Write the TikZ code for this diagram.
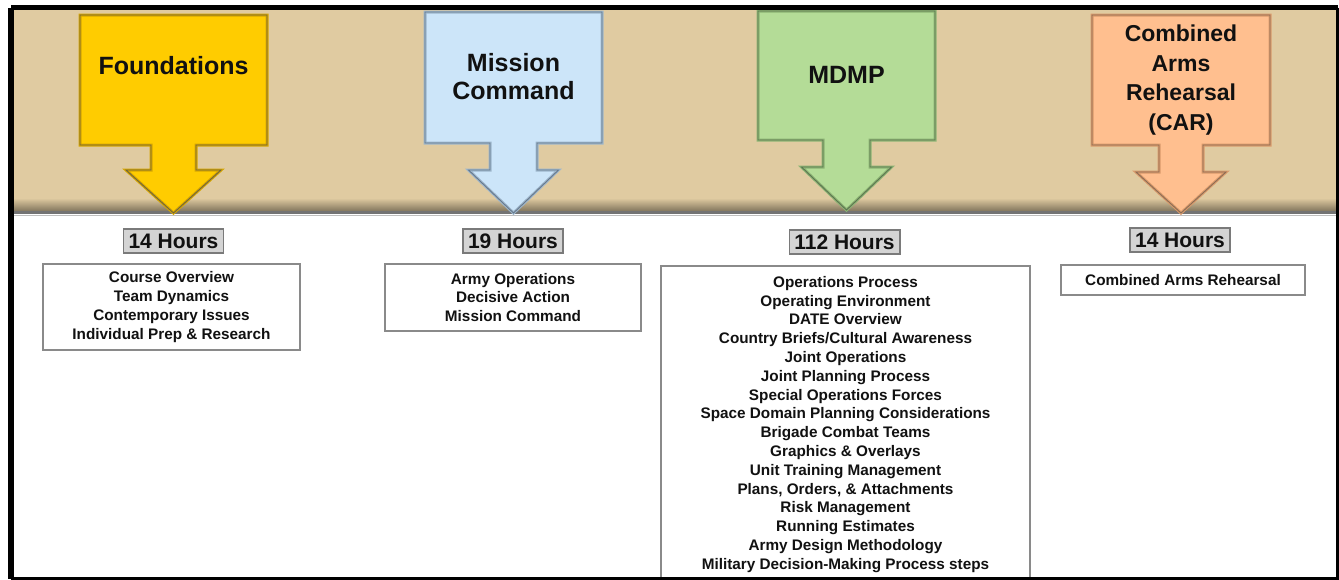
\documentclass[tikz,border=0pt]{standalone}
\usepackage{fontspec}
\setmainfont{Liberation Sans}
\usetikzlibrary{shapes.misc}
\definecolor{tan}{HTML}{E0CBA1}
\definecolor{txt}{HTML}{111111}
\definecolor{fndF}{HTML}{FFCC00}\definecolor{fndD}{HTML}{D6A600}\definecolor{fndO}{HTML}{6E6440}
\definecolor{misF}{HTML}{CCE5F9}\definecolor{misD}{HTML}{9DB6CC}\definecolor{misO}{HTML}{67788A}
\definecolor{mdmF}{HTML}{B4DC97}\definecolor{mdmD}{HTML}{8CB473}\definecolor{mdmO}{HTML}{5C7450}
\definecolor{carF}{HTML}{FFBF8F}\definecolor{carD}{HTML}{D99A6B}\definecolor{carO}{HTML}{8A6C55}
\definecolor{hrsF}{HTML}{D4D4D4}\definecolor{hrsD}{HTML}{7A7A7A}
\definecolor{boxD}{HTML}{8A8A8A}
% c, half box width, top, box bottom, half stem width, wing y, half wing width, tip y
\newcommand{\arrowpath}[8]{(#1-#2,#3) -- (#1+#2,#3) -- (#1+#2,#4) -- (#1+#5,#4) -- (#1+#5,#6) -- (#1+#7,#6) -- (#1,#8) -- (#1-#7,#6) -- (#1-#5,#6) -- (#1-#5,#4) -- (#1-#2,#4) -- cycle}
\tikzset{
  title/.style={font=\bfseries\fontsize{25}{28}\selectfont, text=txt, align=center, inner sep=0pt},
  hours/.style={draw=hrsD, fill=hrsF, line width=1.6pt, font=\bfseries\fontsize{21}{24}\selectfont,
     text=txt, inner xsep=5pt, inner ysep=0pt, minimum height=24pt},
  listbox/.style={draw=boxD, line width=1.3pt, fill=white, font=\bfseries\fontsize{15.3}{18.8}\selectfont,
     text=txt, align=center, inner sep=0pt},
  listtext/.style={font=\bfseries\fontsize{15.3}{18.8}\selectfont, text=txt, align=center, inner sep=0pt},
  bevel/.style={line width=3pt, line join=miter},
  outline/.style={line width=0.9pt, line join=miter}
}
\begin{document}
\begin{tikzpicture}[x=1pt,y=-1pt]
\useasboundingbox (0,0) rectangle (1339,579);
\fill[white] (0,0) rectangle (1339,579);
% tan band
\fill[tan] (12,9) rectangle (1336,212);
\shade[top color=tan, bottom color=tan!55!black] (12,198) rectangle (1336,212);
\draw[line width=2.2pt, black!55] (12,212.5) -- (1336,212.5);
\draw[line width=1.4pt, black!25] (12,215.5) -- (1336,215.5);
% arrows
\filldraw[fill=fndF, draw=fndD, bevel] \arrowpath{173.5}{93.5}{15}{145}{22.5}{170}{47.5}{213};
\draw[draw=fndO, outline] \arrowpath{173.5}{93.5}{15}{145}{22.5}{170}{47.5}{213};
\filldraw[fill=misF, draw=misD, bevel] \arrowpath{513.5}{88.5}{12}{143}{23.5}{170}{45}{213};
\draw[draw=misO, outline] \arrowpath{513.5}{88.5}{12}{143}{23.5}{170}{45}{213};
\filldraw[fill=mdmF, draw=mdmD, bevel] \arrowpath{846.5}{88.5}{11}{140}{23.5}{167}{45}{210};
\draw[draw=mdmO, outline] \arrowpath{846.5}{88.5}{11}{140}{23.5}{167}{45}{210};
\filldraw[fill=carF, draw=carD, bevel] \arrowpath{1181}{89}{15}{145}{22}{172}{45}{213};
\draw[draw=carO, outline] \arrowpath{1181}{89}{15}{145}{22}{172}{45}{213};
% arrow titles
\node[title] (tfnd) at (173.5,66) {Foundations};
\node[title] (tmis) at (513.5,77) {Mission\\Command};
\node[title] (tmdm) at (846.5,75) {MDMP};
\node[title, font=\bfseries\fontsize{23}{29.5}\selectfont] (tcar) at (1181,80) {Combined\\Arms\\Rehearsal\\(CAR)};
% hours
\node[hours] (hfnd) at (173.5,241) {14 Hours};
\node[hours] (hmis) at (513,241) {19 Hours};
\node[hours] (hmdm) at (844.5,242) {112 Hours};
\node[hours] (hcar) at (1180,240) {14 Hours};
% lists
\node[listbox, minimum width=257pt, minimum height=86pt] (lfnd) at (171.5,307)
  {Course Overview\\Team Dynamics\\Contemporary Issues\\Individual Prep \& Research};
\node[listbox, minimum width=256pt, minimum height=67pt] (lmis) at (513,297.5)
  {Army Operations\\Decisive Action\\Mission Command};
\node[listbox, minimum width=244pt, minimum height=30pt] (lcar) at (1183,280)
  {Combined Arms Rehearsal};
\draw[draw=boxD, line width=1.3pt, fill=white] (661,266) rectangle (1030,600);
\node[listtext, anchor=north] (lmdm) at (845.5,276)
  {Operations Process\\Operating Environment\\DATE Overview\\Country Briefs/Cultural Awareness\\Joint Operations\\Joint Planning Process\\Special Operations Forces\\Space Domain Planning Considerations\\Brigade Combat Teams\\Graphics \& Overlays\\Unit Training Management\\Plans, Orders, \& Attachments\\Risk Management\\Running Estimates\\Army Design Methodology\\Military Decision-Making Process steps};
% frame
\draw[line width=5pt, black] (11,7.5) -- (1338,7.5);
\draw[line width=6pt, black] (11,7.5) -- (11,579);
\draw[line width=3.5pt, black] (1337.5,7.5) -- (1337.5,579);
\draw[line width=3pt, black] (11,578) -- (1339,578);
\end{tikzpicture}
\end{document}
